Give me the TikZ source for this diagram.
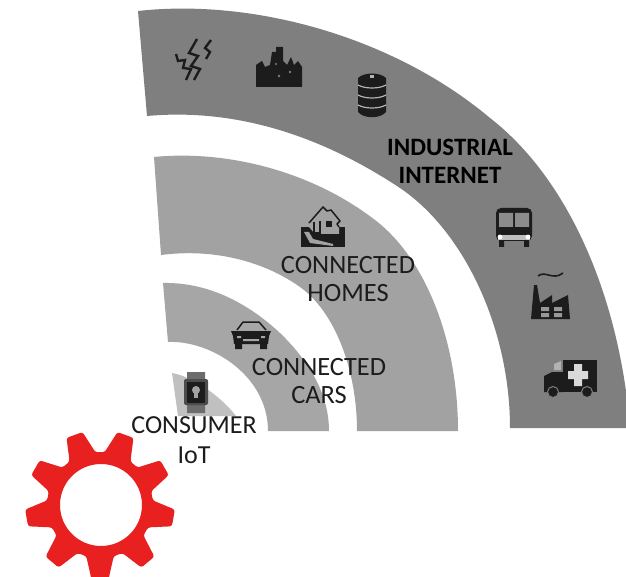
\documentclass[tikz,border=0pt]{standalone}
\usepackage{fontspec}
\setmainfont{Carlito}
\definecolor{bandA}{HTML}{7F7F7F}
\definecolor{bandB}{HTML}{A2A2A2}
\definecolor{bandC}{HTML}{A6A6A6}
\definecolor{bandD}{HTML}{C0C0C0}
\definecolor{gearred}{HTML}{E8201F}
\definecolor{ink}{HTML}{1C1C1C}
\tikzset{
  lbl/.style={align=center,text=ink,inner sep=0pt,font=\fontsize{26.4}{28}\selectfont},
  lblb/.style={align=center,text=black,inner sep=0pt,font=\fontsize{25}{28}\selectfont\bfseries},
  icon/.style={fill=ink,draw=none},
  iconline/.style={draw=ink,line width=2.4pt,fill=none,line join=miter},
}
\begin{document}
\begin{tikzpicture}[x=1pt,y=-1pt]
\useasboundingbox (0,0) rectangle (626,577);
\fill[white] (0,0) rectangle (626,577);
% bands
\begin{scope}
\clip (0,0) rectangle (626,577);
\fill[bandA] (138,11) .. controls (255,-2) and (395,38) .. (490,118)
  .. controls (570,180) and (620,300) .. (630,428) -- (510,428)
  .. controls (510,330) and (465,232) .. (400,188)
  .. controls (320,135) and (235,108) .. (147,116) -- cycle;
\end{scope}
\fill[bandB] (154,157) .. controls (225,150) and (310,170) .. (375,220)
  .. controls (425,258) and (458,340) .. (458,431) -- (357,431)
  .. controls (357,370) and (335,312) .. (300,287)
  .. controls (265,262) and (215,248) .. (161,255) -- cycle;
\fill[bandC] (163,283) .. controls (210,282) and (250,305) .. (280,333)
  .. controls (310,362) and (329,395) .. (329,431) -- (268,431)
  .. controls (268,375) and (210,340) .. (168,342) -- cycle;
\fill[bandD] (172,373) .. controls (190,376) and (218,393) .. (236,416) -- (178,416) -- cycle;
% gear
\fill[gearred,even odd rule,rounded corners=2.5pt]
  \foreach \a [count=\i] in {90,130,...,410} {
    \ifnum\i=1 ({100+53*cos(\a-15)},{505+53*sin(\a-15)}) \else -- ({100+53*cos(\a-15)},{505+53*sin(\a-15)}) \fi
    -- ({100+75*cos(\a-6.5)},{505+75*sin(\a-6.5)})
    -- ({100+75*cos(\a+6.5)},{505+75*sin(\a+6.5)})
    -- ({100+53*cos(\a+15)},{505+53*sin(\a+15)})
  } -- cycle
  (101,505) circle (41);
% lightning icon
\begin{scope}[shift={(194,60)}]
  \draw[iconline] (-18,-6) -- (-16,1) -- (-9,0) -- (-11,8) -- (-3,9) -- (-8,20);
  \draw[iconline] (3,-21) -- (-5,-7) -- (4,-4) -- (-3,6) -- (6,9) -- (0,20);
  \draw[iconline] (17,-20) -- (11,-12) -- (16,-8) -- (12,-1);
\end{scope}
% city icon
\begin{scope}[shift={(279,69)}]
  \fill[icon] (-23,18) -- (-23,-4) -- (-17,-8) -- (-14,-2) -- (-9,-4) -- (-7,-17) -- (-3,-17) -- (-3,-22) -- (4,-22) -- (4,-8) -- (8,-4) -- (12,-12) -- (15,-4) -- (19,-8) -- (23,-2) -- (23,18) -- cycle;
  \fill[bandA] (-3,-5) circle (1.2) (0,7) circle (1.4) (11,3) circle (1.4);
\end{scope}
% database icon
\begin{scope}[shift={(372,95)}]
  \fill[icon] (-14,-17) .. controls (-8,-23) and (8,-23) .. (14,-17) -- (14,17) .. controls (8,24) and (-8,24) .. (-14,17) -- cycle;
  \draw[bandA!60!white,line width=1.2pt] (-14,-10) .. controls (-7,-6) and (7,-6) .. (14,-10);
  \draw[bandA!60!white,line width=1.2pt] (-14,0) .. controls (-7,4) and (7,4) .. (14,0);
  \draw[bandA!60!white,line width=1.2pt] (-14,10) .. controls (-7,14) and (7,14) .. (14,10);
  \fill[bandA!60!white] (-2,-20) rectangle (2,-17);
\end{scope}
% bus icon
\begin{scope}[shift={(514,227)}]
  \fill[icon,rounded corners=5pt] (-18,-19) rectangle (18,14);
  \fill[icon] (-15,12) rectangle (-10,20) (10,12) rectangle (15,20);
  \fill[bandA!90!white] (-15,-14) rectangle (-1,0) (1,-14) rectangle (15,0);
  \fill[bandA!50!white] (-16,8) rectangle (16,13);
  \fill[white] (-14,10) circle (2.4) (14,10) circle (2.4);
\end{scope}
% factory icon
\begin{scope}[shift={(550,305)}]
  \fill[icon] (-19,14) -- (-16,-20) -- (-13,-20) -- (-10,-2) -- (2,-10) -- (2,-2) -- (18,-10) -- (20,14) -- cycle;
  \fill[bandA!80!white] (-9,2) rectangle (-1,6) (-9,8) rectangle (-1,12) (4,2) rectangle (12,6) (4,8) rectangle (12,12);
  \draw[ink,line width=1.6pt] (-12,-29) .. controls (-5,-35) and (3,-24) .. (13,-32);
\end{scope}
% ambulance icon
\begin{scope}[shift={(570,376)}]
  \fill[icon] (-7,-16) rectangle (27,16);
  \fill[icon] (-26,0) -- (-18,-4) -- (-7,-4) -- (-7,16) -- (-26,16) -- cycle;
  \fill[bandA!60!white] (-16,-12) -- (-9,-15) -- (-9,-6) -- (-16,-6) -- cycle;
  \fill[bandD!60!white] (4,-12) rectangle (12,10) (-2,-5) rectangle (18,3);
  \fill[icon,draw=bandA,line width=1pt] (-17,16) circle (5.5) (17,16) circle (5.5);
\end{scope}
% house icon
\begin{scope}[shift={(323,230)}]
  \fill[icon] (-22,-3) -- (22,-3) -- (22,17) -- (-22,17) -- cycle;
  \fill[bandB] (-14,-6) -- (-14,-3) -- (-8,4) -- (16,4) -- (16,-6) -- cycle;
  \draw[ink,line width=1.5pt,line join=round] (-14,-7) -- (0,-23) -- (4,-19) -- (8,-20) -- (17,-9) -- (14,-6) -- (16,-3);
  \draw[ink,line width=2pt] (-9,-8) -- (-9,3) -- (-3,3) -- (-3,-9);
  \fill[ink] (3,-9) rectangle (9,-3);
  \fill[bandB] (-19,2) -- (-14,2) -- (-10,9) -- (10,14) -- (10,16) -- (-13,13) -- cycle;
\end{scope}
% car icon
\begin{scope}[shift={(251,335)}]
  \draw[ink,line width=1.5pt,line join=round] (-14,-5) -- (-8,-13) -- (8,-13) -- (15,-5);
  \fill[icon] (-20,-4) -- (20,-4) -- (18,1) -- (17,9) -- (-17,9) -- (-18,1) -- cycle;
  \fill[icon] (-16,8) rectangle (-9,14) (9,8) rectangle (16,14);
  \fill[bandC] (-8,4) rectangle (8,6) (-14,1) rectangle (-10,3) (10,1) rectangle (14,3);
\end{scope}
% watch icon
\begin{scope}[shift={(196,392)}]
  \fill[bandA!85!black] (-9,-20) rectangle (9,-10) (-9,10) rectangle (9,21);
  \fill[bandA!60!black,rounded corners=2pt] (-12,-13) rectangle (12,13);
  \fill[icon] (-9,-10) rectangle (9,11);
  \fill[bandB] (0,-2) circle (4);
  \fill[bandB] (-2,1) rectangle (2,6);
\end{scope}
% texts
\node[lblb] (industrial) at (450,161) {INDUSTRIAL\\INTERNET};
\node[lbl] (homes) at (348,279) {CONNECTED\\HOMES};
\node[lbl] (cars) at (319,381) {CONNECTED\\CARS};
\node[lbl,font=\fontsize{26}{30}\selectfont] (iot) at (194,440) {CONSUMER\\IoT};
\end{tikzpicture}
\end{document}
